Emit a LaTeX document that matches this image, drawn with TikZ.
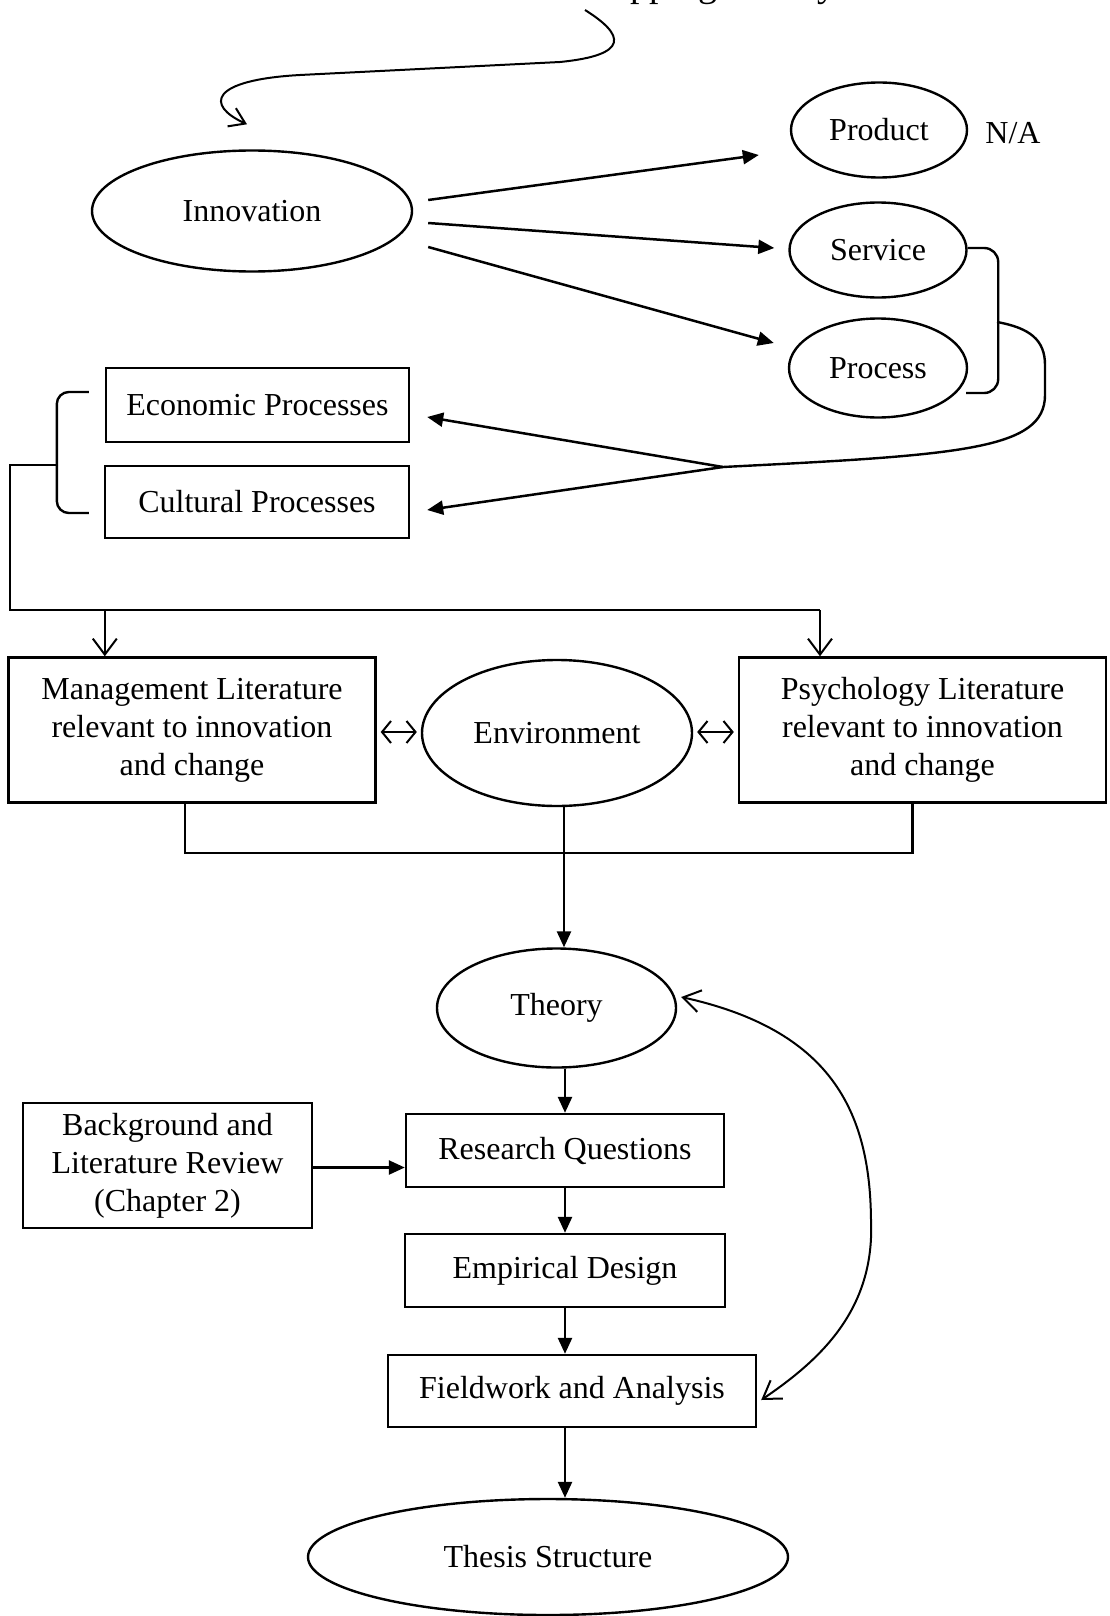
\documentclass[tikz,border=0pt]{standalone}
\usepackage{fontspec}
\setmainfont{Liberation Serif}
\usetikzlibrary{shapes.geometric,arrows.meta,calc}
\newcommand{\diagfont}{\fontsize{32}{38}\selectfont}
\newcommand{\titlefont}{\fontsize{38}{44}\selectfont}
\tikzset{
  base/.style={draw, line width=2.4pt, font=\diagfont, inner sep=0pt, align=center},
  oval/.style={base, ellipse},
  box/.style={base, rectangle},
  tri/.style={-{Triangle[length=16pt,width=14pt]}, line width=2.5pt},
  barb/.style={-{Straight Barb[length=16pt,width=24pt]}, line width=2pt},
  twoway/.style={{Straight Barb[length=9pt,width=22pt]}-{Straight Barb[length=9pt,width=22pt]}, line width=2pt},
  plain/.style={line width=2.4pt},
}
\begin{document}
\begin{tikzpicture}[x=1pt,y=-1pt]
\useasboundingbox (0,0) rectangle (1109,1616);
\clip (0,0) rectangle (1109,1616);

% heading, cut by the page edge
\node[font=\titlefont, anchor=base, inner sep=0pt] (title) at (708,-3) {Mapping Theory};
\coordinate (tstart) at (585,10);

% innovation types
\node[oval, minimum width=320, minimum height=121] (inno) at (252,211) {Innovation};
\node[oval, minimum width=176, minimum height=95] (prod) at (879,130) {Product};
\node[font=\diagfont, inner sep=0pt] (na) at (1013,133) {N/A};
\node[oval, minimum width=177, minimum height=95] (serv) at (878,250) {Service};
\node[oval, minimum width=178, minimum height=99] (proc) at (878,368) {Process};

% processes
\node[box, minimum width=303, minimum height=74] (econ) at (257.5,405) {Economic Processes};
\node[box, minimum width=304, minimum height=72] (cult) at (257,502) {Cultural Processes};

% literature and environment
\node[box, minimum width=367, minimum height=145] (mgmt) at (192,730)
  {Management Literature\\relevant to innovation\\and change};
\node[oval, minimum width=270, minimum height=146] (env) at (557,733) {Environment};
\node[box, minimum width=367, minimum height=145] (psych) at (922.5,730)
  {Psychology Literature\\relevant to innovation\\and change};

% research chain
\node[oval, minimum width=239, minimum height=119] (theory) at (556.5,1008) {Theory};
\node[box, minimum width=289, minimum height=125] (bg) at (167.5,1165.5)
  {Background and\\Literature Review\\(Chapter 2)};
\node[box, minimum width=318, minimum height=73] (rq) at (565,1150.5) {Research Questions};
\node[box, minimum width=320, minimum height=73] (ed) at (565,1270.5) {Empirical Design};
\node[box, minimum width=368, minimum height=72] (fa) at (572,1391) {Fieldwork and Analysis};
\node[oval, minimum width=480, minimum height=116] (thesis) at (548,1557) {Thesis Structure};

% heading sweeps down to innovation
\draw[{Straight Barb[length=15pt,width=20pt]}-, line width=2pt]
  ([shift={(-5,-25)}]inno.north) .. controls (205,105) and (210,80) .. (300,75)
  -- (560,62) .. controls (630,55) and (625,35) .. (tstart);

% innovation to its three types
\draw[tri] ([shift={(15,-11)}]inno.east) -- ([shift={(-31,25)}]prod.west);
\draw[tri] ([shift={(15,12)}]inno.east) -- ([shift={(-14,-2)}]serv.west);
\draw[tri] ([shift={(15,36)}]inno.east) -- ([shift={(-14,-25)}]proc.west);

% bracket joining service and process
\draw[plain, rounded corners=14] ([shift={(0,-2)}]serv.east) -| ([shift={(30,25)}]proc.east)
  -- ([shift={(-2,25)}]proc.east);
\coordinate (brmid) at (997,322);
\coordinate (meet) at (723,467);
\draw[plain] (brmid) .. controls (1030,328) and (1045,340) .. (1045,365) -- (1045,395)
  .. controls (1045,450) and (960,455) .. (meet);
\draw[tri] (meet) -- ([shift={(17,12)}]econ.east);
\draw[tri] (meet) -- ([shift={(17,8)}]cult.east);

% bracket joining the two processes, feeding both literatures
\draw[plain, rounded corners=12] ([shift={(-16,-13)}]econ.west) -| ([shift={(-47,11)}]cult.west)
  -- ([shift={(-15,11)}]cult.west);
\coordinate (lb) at (58,465);
\coordinate (hr) at (820,610);
\draw[plain] (lb) -- (10,465) -- (10,610) -- (hr);
\draw[barb] ([shift={(97.5,0)}]mgmt.north west |- hr) -- ([shift={(97.5,0)}]mgmt.north west);
\draw[barb] (hr) -- (hr |- psych.north);

% exchange with the environment
\draw[twoway, shorten <=4pt, shorten >=4pt] ([shift={(0,2)}]mgmt.east) -- ([shift={(0,-1)}]env.west);
\draw[twoway, shorten <=4pt, shorten >=4pt] ([shift={(0,-1)}]env.east) -- ([shift={(0,2)}]psych.west);

% literatures combine into theory
\coordinate (junc) at (564,853);
\draw[plain] ([shift={(-7,0)}]mgmt.south) |- (junc) -| ([shift={(-10,0)}]psych.south);
\draw[tri] (env.south -| junc) -- (theory.north -| junc);

% research chain
\draw[tri] (theory.south -| rq) -- (rq.north);
\draw[tri] (rq.south) -- (ed.north);
\draw[tri] (ed.south) -- (fa.north -| ed);
\draw[tri] (fa.south -| ed) -- (thesis.north -| ed);
\draw[tri] ([shift={(0,2)}]bg.east) -- ([shift={(0,2)}]bg.east -| rq.west);

% feedback between fieldwork and theory
\draw[{Straight Barb[length=17pt,width=22pt]}-{Straight Barb[length=17pt,width=22pt]}, line width=2pt]
  ([shift={(4,-11)}]theory.east) .. controls (830,1030) and (870,1110) .. (871,1220)
  .. controls (875,1310) and (820,1360) .. ([shift={(4,9)}]fa.east);
\end{tikzpicture}
\end{document}
